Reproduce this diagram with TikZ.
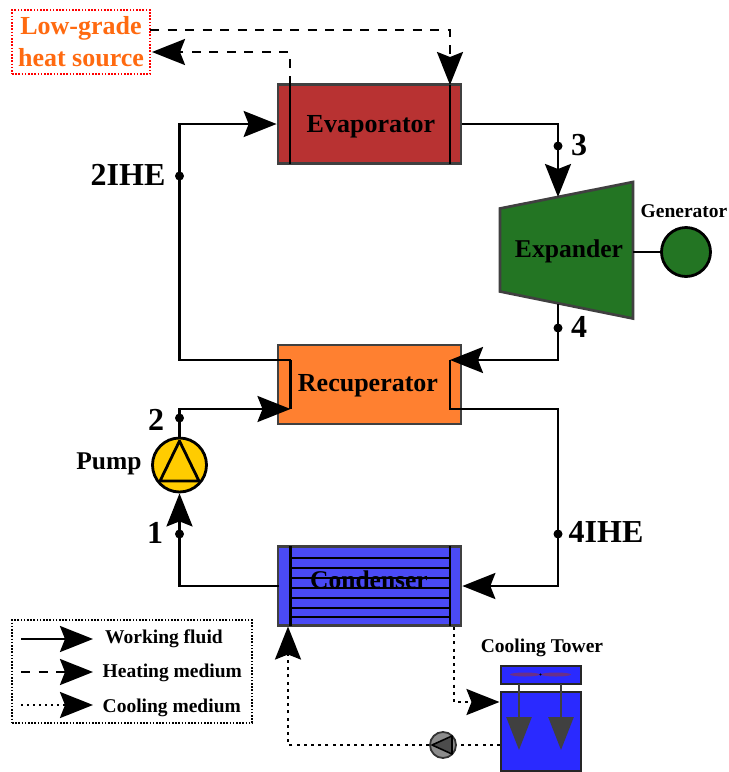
\documentclass[tikz,border=0pt]{standalone}
\usepackage{fontspec}
\setmainfont{Liberation Serif}
\usetikzlibrary{arrows.meta}
\definecolor{evapc}{HTML}{B83232}
\definecolor{recupc}{HTML}{FF8030}
\definecolor{condc}{HTML}{4A4AF5}
\definecolor{expc}{HTML}{237523}
\definecolor{pumpc}{HTML}{FFCC00}
\definecolor{towerc}{HTML}{2A2AFF}
\definecolor{heatc}{HTML}{FF6A10}
\definecolor{edgec}{HTML}{404040}
\definecolor{fanc}{HTML}{6A3088}
\tikzset{
  x=1pt,y=-1pt,
  hx/.style={draw=edgec,line width=2.7pt,minimum width=183pt,minimum height=79pt,inner sep=0pt},
  lbl/.style={inner sep=0pt,font=\fontsize{32}{34}\selectfont\bfseries},
  smalllbl/.style={inner sep=0pt,font=\fontsize{19.5}{22}\selectfont\bfseries},
  midlbl/.style={inner sep=0pt,font=\fontsize{25.5}{28}\selectfont\bfseries},
  pipe/.style={line width=2.6pt,black,line join=miter},
  bigtip/.style={-{Stealth[length=33pt,width=26pt,inset=5pt]}},
  solidflow/.style={pipe,bigtip},
  heatflow/.style={pipe,bigtip,dash pattern=on 9pt off 8.5pt},
  coolflow/.style={pipe,bigtip,dash pattern=on 3pt off 4.2pt},
  coolline/.style={pipe,dash pattern=on 3pt off 4.2pt},
  jdot/.style={circle,fill=black,inner sep=0pt,minimum size=9pt},
  inner/.style={line width=2.6pt,black},
}
\begin{document}
\begin{tikzpicture}
\useasboundingbox (0,0) rectangle (729,772);
\fill[white] (0,0) rectangle (729,772);

% heat exchangers
\node[hx,fill=evapc] (evap) at (369.5,124) {};
\node[hx,fill=recupc] (recup) at (369.5,384.5) {};
\node[hx,fill=condc] (cond) at (369.5,586) {};

% expander
\coordinate (e1) at (500,208.5);
\coordinate (e2) at (633,182);
\coordinate (e3) at (633,318.5);
\coordinate (e4) at (500,291.5);
\draw[draw=edgec,line width=2.7pt,fill=expc,line join=miter] (e1) -- (e2) -- (e3) -- (e4) -- cycle;
\coordinate (expin) at (558,197);
\coordinate (expout) at (558,304);
\coordinate (expshaft) at (633,252);

% generator
\node[circle,draw=black,line width=2.8pt,fill=expc,minimum size=49pt,inner sep=0pt] (gen) at (686,252) {};
\draw[pipe] (expshaft) -- (gen.west);

% pump
\node[circle,draw=black,line width=2.8pt,fill=pumpc,minimum size=54pt,inner sep=0pt] (pump) at (179.5,465) {};
\draw[line width=2.8pt,line join=round] (179.5,441) -- (160,481) -- (199,481) -- cycle;

% points
\coordinate (c1) at (179.5,124);
\coordinate (c2) at (558,124);
\coordinate (c3) at (179.5,360);
\coordinate (c4) at (290.5,360);
\coordinate (c5) at (290.5,409);
\coordinate (c6) at (179.5,409);
\coordinate (c7) at (558,360);
\coordinate (c8) at (450,360);
\coordinate (c9) at (450,409);
\coordinate (c10) at (558,409);
\coordinate (c11) at (558,586);
\coordinate (c12) at (279,586);
\coordinate (c13) at (179.5,586);

% text of heat exchangers
\node[inner sep=0pt,font=\fontsize{26}{30}\selectfont\bfseries] (evaptxt) at (371,126.5) {Evaporator};
\node[inner sep=0pt,font=\fontsize{26}{30}\selectfont\bfseries] (recuptxt) at (368,386) {Recuperator};
\node[inner sep=0pt,font=\fontsize{25.5}{30}\selectfont\bfseries] (condtxt) at (369,579.5) {Condenser};

% condenser internals
\foreach \y in {558,568,578,588,598,608,617}
  \draw[line width=2.2pt,black] (290.5,\y) -- (450,\y);
\draw[inner] (290.5,546) -- (290.5,626);
\draw[inner] (450,546) -- (450,626);

% evaporator internals
\draw[inner] (290,85) -- (290,164);
\draw[inner] (450,85) -- (450,164);

% working fluid
\draw[solidflow] (c4) -- (c3) -- (c1) -- (evap.west);
\draw[inner] (c4) -- (c5);
\draw[solidflow] (evap.east) -- (c2) -- (expin);
\draw[solidflow] (expout) -- (c7) -- (c8);
\draw[solidflow] (c8) -- (c9) -- (c10) -- (c11) -- (cond.east);
\draw[solidflow] (pump.north) -- (c6) -- (c5);
\draw[solidflow] (c12) -- (c13) -- (pump.south);

% junction dots
\node[jdot] (d2ihe) at (179.5,176) {};
\node[jdot] (d3) at (558,146) {};
\node[jdot] (d4) at (558,328) {};
\node[jdot] (d4ihe) at (558,534) {};
\node[jdot] (d1) at (179.5,534) {};
\node[jdot] (d2) at (179.5,418) {};

% heat source
\node[draw=red,line width=1.5pt,dash pattern=on 1.6pt off 1.6pt,minimum width=138pt,minimum height=64pt,inner sep=0pt,align=center,text=heatc,font=\fontsize{26}{32}\selectfont\bfseries] (hs) at (81,42) {Low-grade\\heat source};
\coordinate (h1) at (150,30);
\coordinate (h2) at (450,30);
\coordinate (h3) at (290,52);
\coordinate (h4) at (290,85);
\coordinate (h5) at (450,85);
\coordinate (h6) at (152,52);
\draw[heatflow] (h1) -- (h2) -- (h5);
\draw[heatflow] (h4) -- (h3) -- (h6);

% labels
\node[lbl] (l2ihe) at (128,175) {2IHE};
\node[lbl] (l3) at (579,145) {3};
\node[lbl] (l4) at (579,327) {4};
\node[lbl] (l4ihe) at (606,532) {4IHE};
\node[lbl] (l1) at (155,533) {1};
\node[lbl] (l2) at (156,420) {2};
\node[midlbl] (lpump) at (109,464) {Pump};
\node[inner sep=0pt,font=\fontsize{25.6}{30}\selectfont\bfseries] (lexp) at (569,251) {Expander};
\node[smalllbl] (lgen) at (684,211) {Generator};
\node[smalllbl] (ltower) at (542,647.5) {Cooling Tower};

% cooling tower
\node[draw=edgec!60!black,line width=2pt,fill=towerc,minimum width=80pt,minimum height=18pt,inner sep=0pt] (fan) at (540.5,674.5) {};
\node[draw=edgec!60!black,line width=2pt,fill=towerc,minimum width=80pt,minimum height=79pt,inner sep=0pt] (tower) at (540.5,731.5) {};
\fill[fanc] (525,674.5) ellipse (15 and 2);
\fill[fanc] (556,674.5) ellipse (15 and 2);
\fill[black] (540.5,674.5) circle (1.2);
\coordinate (ta) at (519,684);
\coordinate (tb) at (561,684);
\coordinate (tc) at (519,750);
\coordinate (td) at (561,750);
\draw[line width=2.6pt,draw=edgec,-{Stealth[length=33pt,width=25pt,inset=0pt,color=edgec]}] (ta) -- (tc);
\draw[line width=2.6pt,draw=edgec,-{Stealth[length=33pt,width=25pt,inset=0pt,color=edgec]}] (tb) -- (td);

% cooling loop
\coordinate (k1) at (454,627);
\coordinate (k2) at (454,702);
\coordinate (k3) at (288,745);
\coordinate (k4) at (500,745);
\coordinate (k5) at (288,626.5);
\draw[coolflow] (k1) -- (k2) -- (tower.west |- k2);
\node[circle,draw=black!80,line width=1.8pt,fill=black!45,minimum size=26pt,inner sep=0pt] (cpump) at (443,745) {};
\fill[black!70] (432,745) -- (452,737) -- (452,753) -- cycle;
\draw[line width=1.6pt,black,line join=round] (432,745) -- (452,736) -- (452,754) -- cycle;
\draw[coolline] (k4) -- (cpump.east);
\draw[coolflow] (cpump.west) -- (k3) -- (k5);

% legend
\node[draw=black,line width=1.5pt,dash pattern=on 1.6pt off 1.6pt,minimum width=240pt,minimum height=103pt,inner sep=0pt] (legend) at (132,671.5) {};
\coordinate (la) at (21,639);
\coordinate (lb) at (93,639);
\coordinate (lc) at (21,672);
\coordinate (ld) at (93,672);
\coordinate (le) at (21,705);
\coordinate (lf) at (93,705);
\draw[solidflow] (la) -- (lb);
\draw[heatflow] (lc) -- (ld);
\draw[pipe,bigtip,dash pattern=on 2.4pt off 3.6pt] (le) -- (lf);
\node[smalllbl,anchor=west] (lw) at (105,639) {Working fluid};
\node[smalllbl,anchor=west] (lh) at (102.5,673) {Heating medium};
\node[smalllbl,anchor=west] (lcm) at (102.5,708) {Cooling medium};
\end{tikzpicture}
\end{document}
